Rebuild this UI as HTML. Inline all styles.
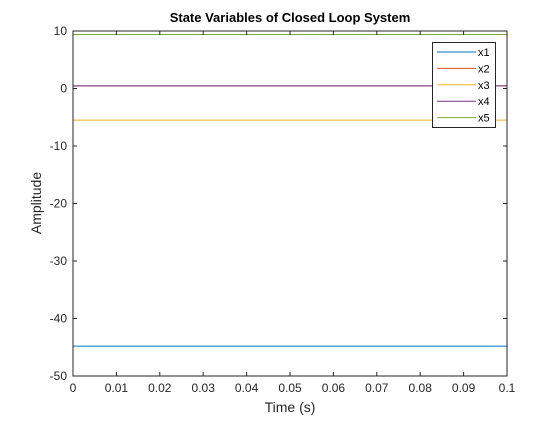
<!DOCTYPE html>
<html><head><meta charset="utf-8"><style>
body{margin:0;background:#fff;font-family:"Liberation Sans",sans-serif}
</style></head><body>
<svg width="560" height="420" xmlns="http://www.w3.org/2000/svg">
<rect width="560" height="420" fill="#fff"/>
<g id="plot"></g>
</svg>
<script>
const seriesNames=["x1","x2","x3","x4","x5"];
const seriesValues=[-44.8,0.45,-5.5,0.45,9.4];
const seriesColors=["#0072BD","#D95319","#EDB120","#7E2F8E","#77AC30"];
const xTicks=[0,0.01,0.02,0.03,0.04,0.05,0.06,0.07,0.08,0.09,0.1];
const yTicks=[10,0,-10,-20,-30,-40,-50];
const L=73,R=507,T=31,B=376;
const xs=v=>L+(v-0)/(0.1)*(R-L);
const ys=v=>T+(10-v)/60*(B-T);
const NS="http://www.w3.org/2000/svg";
const g=document.getElementById('plot');
function mk(tag,at,txt){const e=document.createElementNS(NS,tag);for(const k in at)e.setAttribute(k,at[k]);if(txt!=null)e.textContent=txt;g.appendChild(e);return e;}
const bg=mk('rect',{x:L,y:T,width:R-L,height:B-T,fill:'#fff'});


// series
const order=[0,1,2,4,3];
order.forEach(i=>{
 const ln=mk('line',{x1:xs(0),x2:xs(0.1),y1:ys(seriesValues[i]),y2:ys(seriesValues[i]),stroke:seriesColors[i],'stroke-width':1});
 
 
});
// axes box
const box=mk('rect',{x:L,y:T,width:R-L,height:B-T,fill:'none',stroke:'#262626','stroke-width':1});


xTicks.forEach(t=>{
 const x=xs(t);
 mk('line',{x1:x,x2:x,y1:B,y2:B-4,stroke:'#262626'});
 mk('line',{x1:x,x2:x,y1:T,y2:T+4,stroke:'#262626'});
 const lb=mk('text',{x:x,y:B+16,'font-size':12,'text-anchor':'middle',fill:'#262626'},String(t));
 
 
});
yTicks.forEach(t=>{
 const y=ys(t);
 mk('line',{x1:L,x2:L+4,y1:y,y2:y,stroke:'#262626'});
 mk('line',{x1:R,x2:R-4,y1:y,y2:y,stroke:'#262626'});
 const lb=mk('text',{x:L-6,y:y+4,'font-size':12,'text-anchor':'end',fill:'#262626'},String(t));
 
 
});
const ti=mk('text',{x:290,y:22,'font-size':13,'font-weight':'bold','text-anchor':'middle',fill:'#000'},'State Variables of Closed Loop System');


const xt=mk('text',{x:290,y:412,'font-size':14,'text-anchor':'middle',fill:'#262626'},'Time (s)');


const yt=mk('text',{x:0,y:0,'font-size':14,'text-anchor':'middle',fill:'#262626',transform:'translate(41,203) rotate(-90)'},'Amplitude');


// legend
const lg=mk('rect',{x:432.5,y:42.5,width:63,height:85,fill:'#fff',stroke:'#262626','stroke-width':1});


seriesNames.forEach((n,i)=>{
 const y=52+i*16.4;
 const ll=mk('line',{x1:437,x2:476,y1:y,y2:y,stroke:seriesColors[i]});
 
 
 const lt=mk('text',{x:478,y:y+4,'font-size':11,fill:'#000'},n);
 
 
});
</script>
</body></html>
